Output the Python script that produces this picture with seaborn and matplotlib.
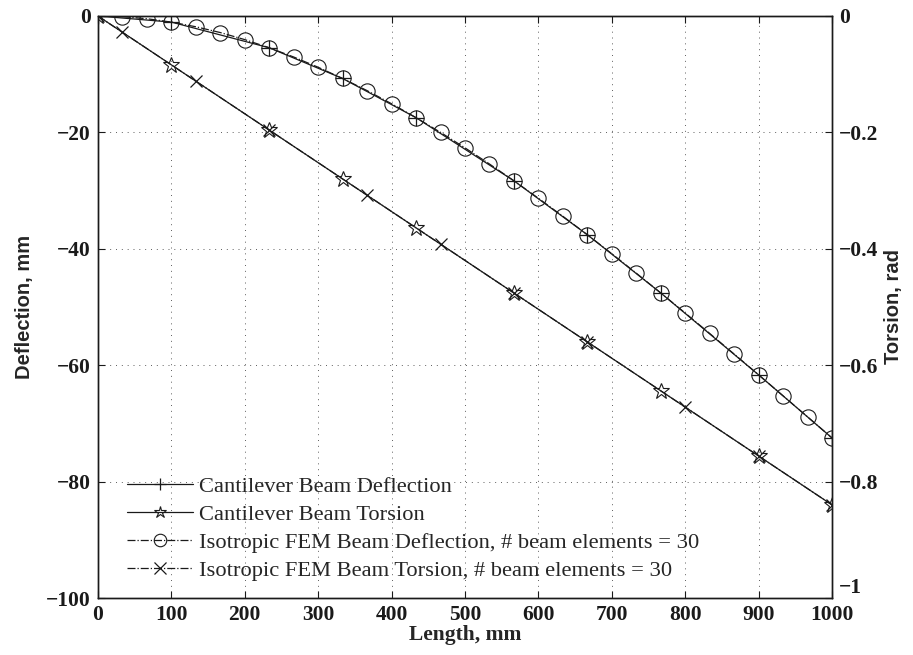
import numpy as np
import matplotlib
matplotlib.use("Agg")
import matplotlib.pyplot as plt
import seaborn as sns

# Cantilever (analytical) samples
cant_x = [0, 100, 233.3, 333.3, 433.3, 566.7, 666.7, 766.7, 900, 1000]
cant_defl = [0, -1.05, -5.46, -10.74, -17.47, -28.32, -37.59, -47.59, -61.66, -72.5]
cant_tors = [0, -0.084, -0.196, -0.280, -0.364, -0.476, -0.560, -0.644, -0.756, -0.840]

# FEM deflection, 30 elements (31 nodes)
fem_x = [0, 33.3, 66.7, 100, 133.3, 166.7, 200, 233.3, 266.7, 300, 333.3,
         366.7, 400, 433.3, 466.7, 500, 533.3, 566.7, 600, 633.3, 666.7,
         700, 733.3, 766.7, 800, 833.3, 866.7, 900, 933.3, 966.7, 1000]
fem_defl = [0, -0.12, -0.47, -1.05, -1.85, -2.85, -4.06, -5.46, -7.05, -8.81, -10.74,
            -12.83, -15.08, -17.47, -20.0, -22.66, -25.43, -28.32, -31.32, -34.41, -37.59,
            -40.85, -44.19, -47.59, -51.04, -54.54, -58.09, -61.66, -65.26, -68.88, -72.5]

# FEM torsion (markers shown on a subset of nodes)
fem_tx = [0, 33.3, 133.3, 233.3, 366.7, 466.7, 566.7, 666.7, 800, 900, 1000]
fem_tors = [0, -0.028, -0.112, -0.196, -0.308, -0.392, -0.476, -0.560, -0.672, -0.756, -0.840]

sns.set_theme(style="ticks")
serif = ["Liberation Serif", "DejaVu Serif"]
sans = ["Liberation Sans", "DejaVu Sans"]
plt.rcParams["font.family"] = serif

fig = plt.figure(figsize=(9.13, 6.55), dpi=100)
ax = fig.add_axes([0.1073, 0.087, 0.804, 0.8886])
ax2 = ax.twinx()

lw = 0.9
h1 = ax.plot(cant_x, cant_defl, color="k", lw=lw, ls="-", marker="+", ms=11, mew=0.9,
             label="Cantilever Beam Deflection")[0]
h3 = ax.plot(fem_x[1:], fem_defl[1:], color="k", lw=lw, ls="-.", marker="o", ms=11,
             mfc="none", mew=0.8, label="Isotropic FEM Beam Deflection, # beam elements = 30")[0]
sns.lineplot(x=[0, 33.3], y=[0, -0.12], ax=ax, color="k", lw=lw, legend=False)

h2 = ax2.plot(cant_x, cant_tors, color="k", lw=lw, ls="-", marker="*", ms=12,
              mfc="none", mew=0.8, label="Cantilever Beam Torsion")[0]
h4 = ax2.plot(fem_tx, fem_tors, color="k", lw=lw, ls="-.", marker="x", ms=8, mew=0.9,
              label="Isotropic FEM Beam Torsion, # beam elements = 30")[0]

ax.set_xlim(0, 1000)
ax.set_ylim(-100, 0)
ax2.set_ylim(-1, 0)
ax.set_xticks(np.arange(0, 1001, 100))
ax.set_yticks(np.arange(-100, 1, 20))
ax2.set_yticks([-1, -0.8, -0.6, -0.4, -0.2, 0])
ax2.set_yticklabels(["\u22121", "\u22120.8", "\u22120.6", "\u22120.4", "\u22120.2", "0"])

ax.grid(True, ls=(0, (1, 5)), color="k", lw=0.7, alpha=0.7)
for a in (ax, ax2):
    for s in a.spines.values():
        s.set_color("k")
        s.set_linewidth(1.0)
ax.tick_params(direction="in", top=True, length=5, width=0.8, labelsize=15.5, pad=5, colors="k")
ax2.tick_params(direction="in", length=5, width=0.8, labelsize=15.5, pad=5, colors="k")
for lab in ax.get_xticklabels() + ax.get_yticklabels() + ax2.get_yticklabels():
    lab.set_fontweight("bold")
# the -1 label sits just above the 1000 label, as in the original
ax2.get_yticklabels()[0].set_va("bottom")

ax.set_xlabel("Length, mm", fontsize=15.5, fontweight="bold", family=serif, labelpad=0)
ax.set_ylabel("Deflection, mm", fontsize=14.5, fontweight="bold", family=sans, labelpad=9)
ax2.set_ylabel("Torsion, rad", fontsize=14.5, fontweight="bold", family=sans, labelpad=4)

leg = ax2.legend([h1, h2, h3, h4], [h.get_label() for h in (h1, h2, h3, h4)],
                 loc="lower left", bbox_to_anchor=(0.017, 0.0), frameon=False,
                 prop={"family": serif, "size": 16.2},
                 handlelength=2.9, handletextpad=0.3, labelspacing=0.32, borderpad=0.25)
for h in leg.legend_handles:
    h.set_markersize(9)

fig.savefig("out.png", dpi=100)
